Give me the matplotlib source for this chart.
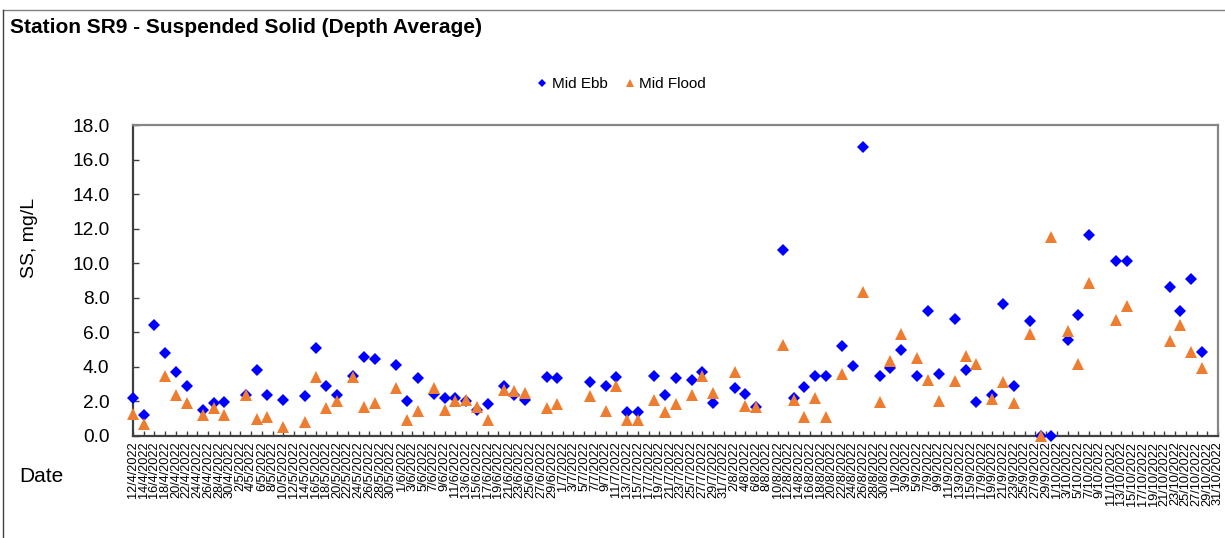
import matplotlib
matplotlib.use("Agg")
import matplotlib.pyplot as plt
from matplotlib.lines import Line2D
import pandas as pd
import numpy as np

plt.rcParams['font.family'] = ['Liberation Sans', 'DejaVu Sans']

# sampling dates and depth-averaged SS (mg/L)
dates = [
    "12/4/2022", "14/4/2022", "16/4/2022", "18/4/2022", "20/4/2022", "22/4/2022",
    "25/4/2022", "27/4/2022", "29/4/2022", "3/5/2022", "5/5/2022", "7/5/2022",
    "10/5/2022", "14/5/2022", "16/5/2022", "18/5/2022", "20/5/2022", "23/5/2022",
    "25/5/2022", "27/5/2022", "31/5/2022", "2/6/2022", "4/6/2022", "7/6/2022",
    "9/6/2022", "11/6/2022", "13/6/2022", "15/6/2022", "17/6/2022", "20/6/2022",
    "22/6/2022", "24/6/2022", "28/6/2022", "30/6/2022", "6/7/2022", "9/7/2022",
    "11/7/2022", "13/7/2022", "15/7/2022", "18/7/2022", "20/7/2022", "22/7/2022",
    "25/7/2022", "27/7/2022", "29/7/2022", "2/8/2022", "4/8/2022", "6/8/2022",
    "11/8/2022", "13/8/2022", "15/8/2022", "17/8/2022", "19/8/2022", "22/8/2022",
    "24/8/2022", "26/8/2022", "29/8/2022", "31/8/2022", "2/9/2022", "5/9/2022",
    "7/9/2022", "9/9/2022", "12/9/2022", "14/9/2022", "16/9/2022", "19/9/2022",
    "21/9/2022", "23/9/2022", "26/9/2022", "28/9/2022", "30/9/2022", "3/10/2022",
    "5/10/2022", "7/10/2022", "12/10/2022", "14/10/2022", "22/10/2022", "24/10/2022",
    "26/10/2022", "28/10/2022",
]

mid_ebb = [
    2.2, 1.2, 6.4, 4.8, 3.7, 2.9,
    1.5, 1.9, 1.95, 2.4, 3.8, 2.4,
    2.1, 2.3, 5.1, 2.9, 2.4, 3.5,
    4.6, 4.45, 4.1, 2.0, 3.35, 2.45,
    2.2, 2.2, 2.0, 1.5, 1.85, 2.9,
    2.4, 2.1, 3.4, 3.35, 3.1, 2.9,
    3.4, 1.4, 1.4, 3.5, 2.4, 3.35,
    3.25, 3.7, 1.9, 2.75, 2.45, 1.7,
    10.75, 2.2, 2.85, 3.5, 3.5, 5.2,
    4.05, 16.7, 3.5, 3.95, 4.95, 3.5,
    7.25, 3.6, 6.75, 3.8, 1.95, 2.35,
    7.65, 2.9, 6.65, 0.0, 0.0, 5.55,
    7.0, 11.65, 10.1, 10.1, 8.65, 7.25,
    9.1, 4.85,
]

mid_flood = [
    1.3, 0.7, None, 3.5, 2.4, 1.9,
    1.2, 1.6, 1.2, 2.4, 1.0, 1.1,
    0.5, 0.8, 3.4, 1.6, 2.05, 3.4,
    1.7, 1.9, 2.75, 0.95, 1.45, 2.8,
    1.5, 2.0, 2.1, 1.7, 0.95, 2.65,
    2.6, 2.5, 1.6, 1.85, 2.3, 1.45,
    2.9, 0.95, 0.95, 2.1, 1.4, 1.85,
    2.4, 3.5, 2.5, 3.7, 1.75, 1.65,
    5.25, 2.1, 1.1, 2.2, 1.1, 3.6,
    None, 8.35, 1.95, 4.35, 5.9, 4.5,
    3.25, 2.0, 3.2, 4.65, 4.15, 2.15,
    3.1, 1.9, 5.9, 0.0, 11.5, 6.05,
    4.15, 8.85, 6.7, 7.55, 5.5, 6.4,
    4.85, 3.95,
]

x = pd.to_datetime(dates, format="%d/%m/%Y")
ebb = np.array(mid_ebb, dtype=float)
flood = np.array([np.nan if v is None else v for v in mid_flood], dtype=float)

W, H = 1225, 538
fig = plt.figure(figsize=(W / 100, H / 100), dpi=100)
ax = fig.add_axes([133 / W, 1 - 436 / H, (1218 - 133) / W, (436 - 125) / H])

blue = "#0000FF"
orange = "#ED7D31"

ax.plot(x, ebb, linestyle="none", marker="D", markersize=5.8,
        color=blue, markeredgewidth=0, clip_on=False, zorder=3)
ax.plot(x, flood, linestyle="none", marker="^", markersize=8.6,
        color=orange, markeredgewidth=0, clip_on=False, zorder=4)

start = pd.Timestamp(2022, 4, 12)
end = pd.Timestamp(2022, 10, 31)
ticks = pd.date_range(start, end, freq="2D")
ax.set_xlim(start, end)
ax.set_xticks(ticks)
ax.set_xticklabels([f"{d.day}/{d.month}/{d.year}" for d in ticks],
                   rotation=90, fontsize=9.2)

ax.set_ylim(0, 18)
ax.set_yticks(np.arange(0, 18.1, 2))
ax.set_yticklabels([f"{v:.1f}" for v in np.arange(0, 18.1, 2)], fontsize=13.8)

ax.tick_params(axis="y", direction="in", length=4.3, width=1, pad=17, colors="#404040",
               labelcolor="black")
ax.tick_params(axis="x", direction="in", length=3.5, width=1, pad=4, colors="#404040",
               labelcolor="black")

for side in ["left", "bottom"]:
    ax.spines[side].set_color("#404040")
    ax.spines[side].set_linewidth(1.6)
for side in ["top", "right"]:
    ax.spines[side].set_color("#868686")
    ax.spines[side].set_linewidth(1.6)

# labels and title
fig.text(10 / W, 1 - 28 / H, "Station SR9 - Suspended Solid (Depth Average)",
         fontsize=15, fontweight="bold", va="center", ha="left")
fig.text(29 / W, 1 - 238 / H, "SS, mg/L", rotation=90, fontsize=14,
         va="center", ha="center")
fig.text(19 / W, 1 - 477 / H, "Date", fontsize=15, va="center", ha="left")

handles = [
    Line2D([], [], linestyle="none", marker="D", markersize=4, color=blue,
           markeredgewidth=0, label="Mid Ebb"),
    Line2D([], [], linestyle="none", marker="^", markersize=6.2, color=orange,
           markeredgewidth=0, label="Mid Flood"),
]
fig.legend(handles=handles, loc="center", bbox_to_anchor=(622 / W, 1 - 84 / H),
           ncol=2, frameon=False, fontsize=11, handlelength=0.6,
           handletextpad=0.3, columnspacing=1.2)

# outer chart frame
fig.add_artist(Line2D([3 / W, 1], [1 - 10 / H, 1 - 10 / H], color="#7f7f7f", lw=1))
fig.add_artist(Line2D([3 / W, 3 / W], [0, 1 - 10 / H], color="#404040", lw=1))

fig.savefig("out.png", dpi=100)
